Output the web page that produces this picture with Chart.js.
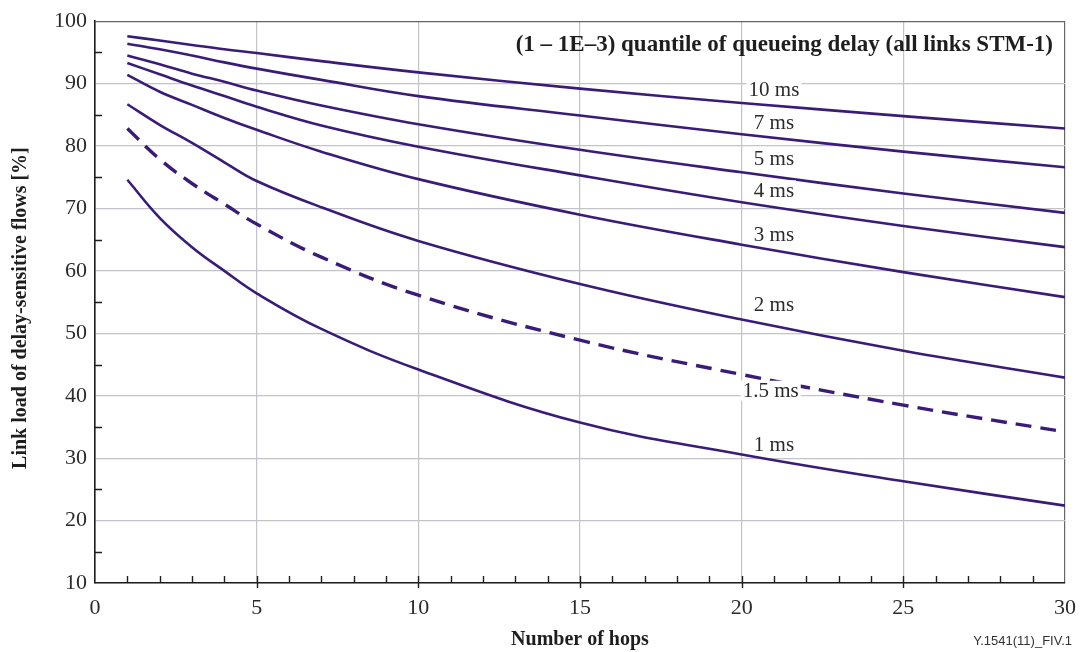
<!DOCTYPE html>
<html>
<head>
<meta charset="utf-8">
<script src="https://cdn.jsdelivr.net/npm/chart.js@4.4.1/dist/chart.umd.min.js"></script>
<style>
  html, body { margin: 0; padding: 0; background: #fff; }
  #wrap { width: 1088px; height: 652px; position: relative; }
</style>
</head>
<body>
<div id="wrap"><canvas id="delayChart"></canvas></div>
<script>
// number of hops where the curves were read
const hops = [1, 2, 3, 4, 5, 7, 10, 15, 20, 25, 30];

// link load [%] per delay quantile
const load10ms = [97.6, 96.9, 96.2, 95.5, 94.9, 93.6, 91.8, 89.2, 86.9, 84.8, 82.8];
const load7ms = [96.4, 95.5, 94.5, 93.4, 92.4, 90.6, 88.0, 84.9, 81.9, 79.1, 76.6];
const load5ms = [94.5, 93.1, 91.6, 90.3, 88.9, 86.5, 83.5, 79.4, 75.8, 72.4, 69.3];
const load4ms = [93.3, 91.5, 89.7, 88.0, 86.3, 83.3, 79.9, 75.3, 71.0, 67.2, 63.8];
const load3ms = [91.4, 88.7, 86.6, 84.5, 82.6, 79.1, 74.7, 69.0, 64.2, 59.8, 55.8];
const load2ms = [86.7, 83.4, 80.5, 77.4, 74.4, 70.2, 64.8, 57.9, 52.2, 47.2, 42.9];
const load15ms = [82.8, 77.9, 74.0, 70.7, 67.5, 62.2, 56.1, 48.9, 43.4, 38.5, 34.2];
const load1ms = [74.6, 68.5, 63.8, 60.0, 56.4, 50.7, 44.2, 35.7, 30.6, 26.3, 22.4];

const seriesNames = ['10 ms', '7 ms', '5 ms', '4 ms', '3 ms', '2 ms', '1.5 ms', '1 ms'];
const seriesValues = [load10ms, load7ms, load5ms, load4ms, load3ms, load2ms, load15ms, load1ms];

// where each curve label sits (hops, load)
const labelHops = [21, 21, 21, 21, 21, 21, 20.9, 21];
const labelLoad = [89.0, 83.7, 78.0, 72.9, 65.9, 54.6, 40.8, 32.2];

const xTicks = [0, 5, 10, 15, 20, 25, 30];
const yTicks = [10, 20, 30, 40, 50, 60, 70, 80, 90, 100];

const chartTitle = '(1 \u2013 1E\u20133) quantile of queueing delay (all links STM-1)';
const xTitle = 'Number of hops';
const yTitle = 'Link load of delay-sensitive flows [%]';
const figureCode = 'Y.1541(11)_FIV.1';

const lineColor = '#3a1c78';
const gridColor = '#c3c4c9';
const serif = '"Liberation Serif", "DejaVu Serif", serif';

const datasets = seriesNames.map((name, i) => ({
    label: name,
    data: hops.map((h, j) => ({ x: h, y: seriesValues[i][j] })),
    borderColor: lineColor,
    borderWidth: name === '1.5 ms' ? 3.4 : 2.6,
    borderDash: name === '1.5 ms' ? [16, 9] : [],
    pointRadius: 0,
    tension: 0.4,
    fill: false
}));

// inner ticks, frame, titles and curve labels
const decorations = {
    id: 'decorations',
    afterDatasetsDraw(chart) {
        const c = chart.ctx;
        const xs = chart.scales.x;
        const ys = chart.scales.y;
        c.save();
        c.font = '21px ' + serif;
        c.textAlign = 'center';
        c.textBaseline = 'middle';
        seriesNames.forEach((name, i) => {
            const px = xs.getPixelForValue(labelHops[i]);
            const py = ys.getPixelForValue(labelLoad[i]);
            const w = c.measureText(name).width;
            c.fillStyle = '#fff';
            c.fillRect(px - w / 2 - 2, py - 10, w + 4, 20);
            c.fillStyle = '#2b2b2b';
            c.fillText(name, px, py + 1);
        });
        c.restore();
    },
    afterDraw(chart) {
        const c = chart.ctx;
        const xs = chart.scales.x;
        const ys = chart.scales.y;
        const area = chart.chartArea;
        c.save();
        c.strokeStyle = '#1e1e1e';
        c.lineWidth = 1.4;
        c.beginPath();
        for (let v = 1; v < 30; v++) {
            const px = Math.round(xs.getPixelForValue(v)) + 0.5;
            c.moveTo(px, area.bottom);
            c.lineTo(px, area.bottom - 7);
            if (v % 5 === 0) {
                c.moveTo(px, area.bottom);
                c.lineTo(px, area.bottom + 5);
            }
        }
        for (let v = 15; v < 100; v += 10) {
            const py = Math.round(ys.getPixelForValue(v)) + 0.5;
            c.moveTo(area.left, py);
            c.lineTo(area.left + 7, py);
        }
        c.stroke();

        c.fillStyle = '#1e1e1e';
        c.font = 'bold 23px ' + serif;
        c.textAlign = 'right';
        c.textBaseline = 'middle';
        c.fillText(chartTitle, area.right - 12, 45);

        c.font = 'bold 20px ' + serif;
        c.textAlign = 'center';
        c.fillText(xTitle, (area.left + area.right) / 2, 640);

        c.save();
        c.translate(21, (area.top + area.bottom) / 2 + 6);
        c.rotate(-Math.PI / 2);
        c.fillText(yTitle, 0, 0);
        c.restore();

        c.fillStyle = '#333';
        c.font = '13px "Liberation Sans", Arial, sans-serif';
        c.textAlign = 'right';
        c.fillText(figureCode, 1072, 641);
        c.restore();
    }
};

new Chart(document.getElementById('delayChart'), {
    type: 'line',
    data: { datasets: datasets },
    options: {
        responsive: true,
        maintainAspectRatio: false,
        animation: false,
        layout: { padding: { top: 19, right: 17, left: 0, bottom: 0 } },
        plugins: {
            legend: { display: false },
            tooltip: { enabled: false }
        },
        scales: {
            x: {
                type: 'linear',
                min: 0,
                max: 30,
                afterFit: (scale) => { scale.height = 69; },
                afterBuildTicks: (scale) => { scale.ticks = xTicks.map(v => ({ value: v })); },
                ticks: {
                    font: { family: serif, size: 22 },
                    color: '#2b2b2b',
                    padding: 12,
                    maxRotation: 0
                },
                grid: {
                    drawTicks: false,
                    color: (ctx) => (ctx.tick && ctx.tick.value === 30 ? '#666' : gridColor),
                    lineWidth: 1.2
                },
                border: { color: '#1e1e1e', width: 1.6 }
            },
            y: {
                min: 10,
                max: 100,
                afterFit: (scale) => { scale.width = 95; },
                afterBuildTicks: (scale) => { scale.ticks = yTicks.map(v => ({ value: v })); },
                ticks: {
                    font: { family: serif, size: 22 },
                    color: '#2b2b2b',
                    padding: 8
                },
                grid: {
                    drawTicks: false,
                    color: (ctx) => (ctx.tick && ctx.tick.value === 100 ? '#666' : gridColor),
                    lineWidth: 1.2
                },
                border: { color: '#1e1e1e', width: 1.6 }
            }
        }
    },
    plugins: [decorations]
});
</script>
</body>
</html>
